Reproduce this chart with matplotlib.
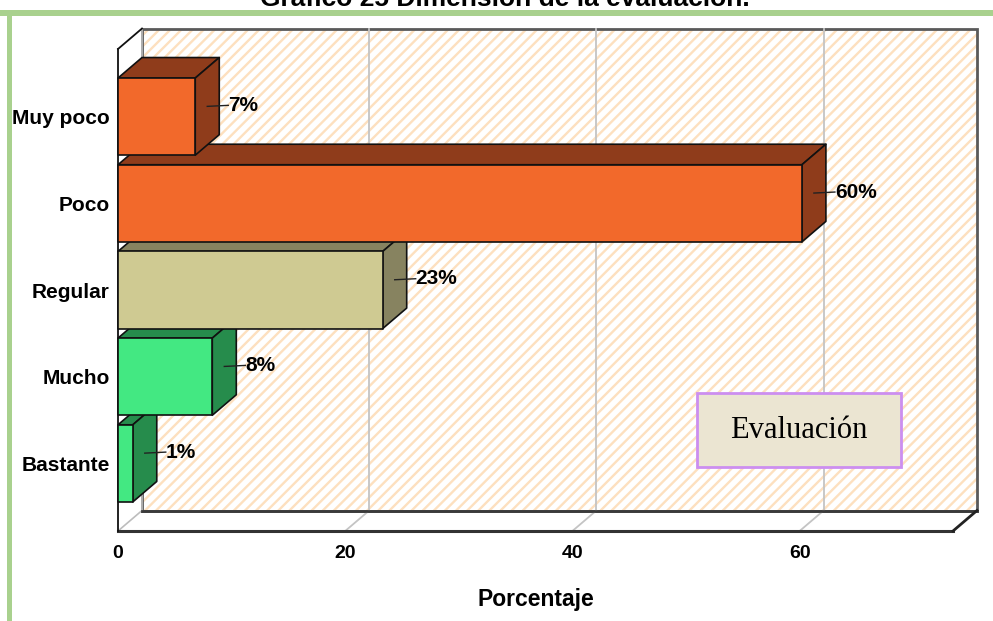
import matplotlib
matplotlib.use("Agg")
import matplotlib.pyplot as plt
from matplotlib.patches import Polygon, Rectangle
from matplotlib.lines import Line2D

# ---------------- data ----------------
categories = ['Muy poco', 'Poco', 'Regular', 'Mucho', 'Bastante']
values = [6.8, 60.2, 23.3, 8.3, 1.3]
value_labels = ['7%', '60%', '23%', '8%', '1%']
x_ticks = [0, 20, 40, 60]
front_colors = ['#f2692b', '#f2692b', '#cfca92', '#43e882', '#43e882']
side_colors = ['#8f3c1b', '#8f3c1b', '#878360', '#268c4c', '#268c4c']
title = 'Gráfico 25 Dimensión de la evaluación.'
legend_text = 'Evaluación'
x_label = 'Porcentaje'

W, H = 993, 621
fig = plt.figure(figsize=(W / 100, H / 100), dpi=100)
fig.patch.set_facecolor('white')

# front plane of the 3-D box, in pixels
L, R, T, B = 118, 953, 49, 531
ax = fig.add_axes([L / W, (H - B) / H, (R - L) / W, (B - T) / H])
XMAX = 73.5
YTOP, YBOT = -0.78, 4.78
ax.set_xlim(0, XMAX)
ax.set_ylim(YBOT, YTOP)
for s in ax.spines.values():
    s.set_visible(False)
ax.patch.set_alpha(0)

# depth offset (pixels -> data units)
DEPTH_X_PX, DEPTH_Y_PX = 24, 20.5
DX = DEPTH_X_PX * XMAX / (R - L)
DY = DEPTH_Y_PX * (YBOT - YTOP) / (B - T)

# back wall (hatched)
wall = [(DX, YTOP - DY), (XMAX + DX, YTOP - DY), (XMAX + DX, YBOT - DY), (DX, YBOT - DY)]
plt.rcParams['hatch.linewidth'] = 1.7
ax.add_patch(Polygon(wall, closed=True, facecolor='white', edgecolor='#fde0bf',
                     hatch='///', lw=0, clip_on=False, zorder=1))
ax.add_patch(Polygon(wall, closed=True, fill=False, edgecolor='#5a5a5a',
                     lw=2, clip_on=False, zorder=1.5))
# floor
floor = [(0, YBOT), (XMAX, YBOT), (XMAX + DX, YBOT - DY), (DX, YBOT - DY)]
ax.add_patch(Polygon(floor, closed=True, facecolor='white', edgecolor='none',
                     clip_on=False, zorder=1.2))
# left side wall
side = [(0, YTOP), (DX, YTOP - DY), (DX, YBOT - DY), (0, YBOT)]
ax.add_patch(Polygon(side, closed=True, facecolor='white', edgecolor='none',
                     clip_on=False, zorder=1.2))

# grid lines on wall and floor
for t in x_ticks[1:]:
    ax.add_line(Line2D([t + DX, t + DX], [YTOP - DY, YBOT - DY], color='#c4c4c4',
                       lw=1.3, clip_on=False, zorder=2))
    ax.add_line(Line2D([t, t + DX], [YBOT, YBOT - DY], color='#c4c4c4',
                       lw=1.3, clip_on=False, zorder=2))
# box edges
ax.add_line(Line2D([DX, DX], [YTOP - DY, YBOT - DY], color='#bdbdbd', lw=1.2, clip_on=False, zorder=2))
ax.add_line(Line2D([0, DX], [YBOT, YBOT - DY], color='#bdbdbd', lw=1.2, clip_on=False, zorder=2))
ax.add_line(Line2D([DX, XMAX + DX], [YBOT - DY, YBOT - DY], color='#3a3a3a', lw=2, clip_on=False, zorder=2.5))
ax.add_line(Line2D([0, XMAX], [YBOT, YBOT], color='#333333', lw=2.2, clip_on=False, zorder=2.5))
ax.add_line(Line2D([XMAX, XMAX + DX], [YBOT, YBOT - DY], color='#222222', lw=2, clip_on=False, zorder=2.5))
ax.add_line(Line2D([0, DX], [YTOP, YTOP - DY], color='#111111', lw=1.3, clip_on=False, zorder=2.5))
ax.add_line(Line2D([0, 0], [YTOP, YBOT], color='#111111', lw=1.3, clip_on=False, zorder=2.5))

# legend-like box
box_cx, box_cy = 799, 430
bw, bh = 204, 74
ax.add_patch(Rectangle(((box_cx - bw / 2) / W, (H - box_cy - bh / 2) / H), bw / W, bh / H,
                       transform=fig.transFigure, facecolor='#ebe5d2', edgecolor='#cc8ef0',
                       lw=2, clip_on=False, zorder=4))
fig.text(box_cx / W, (H - box_cy) / H, legend_text, ha='center', va='center',
         fontsize=22, family='Liberation Serif', zorder=5)

# bars (draw bottom first so upper bars overlap)
BAR_H = 0.89
for i in reversed(range(len(categories))):
    v = values[i]
    y0, y1 = i - BAR_H / 2, i + BAR_H / 2
    z = 3 + (len(categories) - i) * 0.1
    top = [(0, y0), (v, y0), (v + DX, y0 - DY), (DX, y0 - DY)]
    sidef = [(v, y0), (v + DX, y0 - DY), (v + DX, y1 - DY), (v, y1)]
    front = [(0, y0), (v, y0), (v, y1), (0, y1)]
    for poly, col in ((top, side_colors[i]), (sidef, side_colors[i]), (front, front_colors[i])):
        ax.add_patch(Polygon(poly, closed=True, facecolor=col, edgecolor='#111111',
                             lw=1.2, joinstyle='round', clip_on=False, zorder=z))
    # value label with leader
    sx, sy = v + DX / 2, i - DY / 2
    ex = v + DX + 9 * XMAX / (R - L)
    ey = i - DY * 0.55
    ax.add_line(Line2D([sx, ex], [sy, ey], color='#222222', lw=1.0, clip_on=False, zorder=9))
    ax.text(ex, ey, value_labels[i], ha='left', va='center', fontsize=15,
            fontweight='bold', family='Liberation Sans', zorder=10)

ax.set_yticks(range(len(categories)))
ax.set_yticklabels(categories, fontsize=15, fontweight='bold', family='Liberation Sans')
ax.set_xticks(x_ticks)
ax.set_xticklabels([str(t) for t in x_ticks], fontsize=14, fontweight='bold', family='Liberation Sans')
ax.tick_params(axis='y', length=0, pad=6)
ax.tick_params(axis='x', length=0, pad=10)
ax.set_xlabel(x_label, fontsize=16.5, fontweight='bold', family='Liberation Sans')
ax.xaxis.set_label_coords(0.5, -0.143)
ax.xaxis.label.set_va('center')

# title (partly cut off at the top, as in the reference)
fig.text(505 / W, (H - 6) / H, title, ha='center', va='baseline', fontsize=19,
         fontweight='bold', family='Liberation Sans')

# green frame
GREEN = '#a9d18e'
fig.add_artist(Rectangle((0, (H - 16) / H), 1, 6 / H, transform=fig.transFigure,
                         facecolor=GREEN, edgecolor='none'))
fig.add_artist(Rectangle((7 / W, 0), 5 / W, (H - 10) / H, transform=fig.transFigure,
                         facecolor=GREEN, edgecolor='none'))

fig.savefig('out.png', dpi=100)
